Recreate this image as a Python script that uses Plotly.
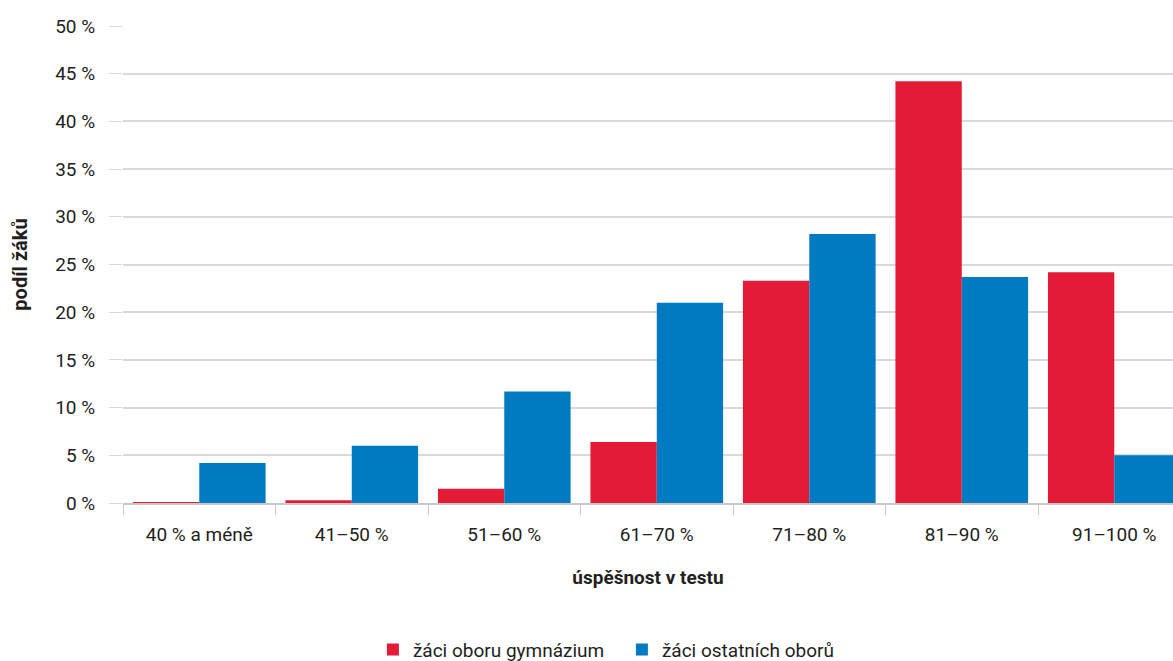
import plotly.graph_objects as go

categories = ["40 % a méně", "41–50 %", "51–60 %", "61–70 %", "71–80 %", "81–90 %", "91–100 %"]
gymnazium = [0.1, 0.3, 1.5, 6.4, 23.3, 44.2, 24.2]
ostatni = [4.2, 6.0, 11.7, 21.0, 28.2, 23.7, 5.0]
series_names = ["žáci oboru gymnázium", "žáci ostatních oborů"]
y_ticks = [0, 5, 10, 15, 20, 25, 30, 35, 40, 45, 50]
y_tick_labels = [f"{v} %" for v in y_ticks]

FONT = "Roboto, Liberation Sans Narrow, sans-serif"
TXT = "#231f20"

fig = go.Figure()
fig.add_trace(go.Bar(x=categories, y=gymnazium, name=series_names[0],
                     marker=dict(color="#e41b37", line=dict(width=0))))
fig.add_trace(go.Bar(x=categories, y=ostatni, name=series_names[1],
                     marker=dict(color="#007bc2", line=dict(width=0))))

fig.update_layout(
    width=1173, height=661,
    margin=dict(l=123, r=0, t=26, b=158),
    paper_bgcolor="white", plot_bgcolor="white",
    barmode="group", bargap=0.13, bargroupgap=0,
    font=dict(family=FONT, size=19, color=TXT),
    legend=dict(orientation="h", x=0.238, xanchor="left",
                yref="container", y=0.017, yanchor="middle",
                font=dict(size=19), itemwidth=30, tracegroupgap=0,
                entrywidth=204),
    showlegend=True,
)
fig.update_xaxes(
    range=[-0.5, 6.385],
    tickson="boundaries", ticks="outside", ticklen=10, tickcolor="#c8c8c8",
    ticklabelstandoff=13,
    showline=True, linecolor="#c8c8c8", linewidth=1.5,
    showgrid=False,
    tickfont=dict(size=19),
    title=dict(text="<b>úspěšnost v testu</b>", font=dict(size=19), standoff=26),
)
fig.update_yaxes(
    range=[0, 50], tickvals=y_ticks, ticktext=y_tick_labels,
    ticks="outside", ticklen=13, tickcolor="#d9d9d9",
    ticklabelstandoff=10,
    showgrid=True, gridcolor="#d9d9d9", gridwidth=1.5,
    zeroline=False, showline=False,
    tickfont=dict(size=19),
    title=dict(text="<b>podíl žáků</b>", font=dict(size=20), standoff=22),
)
fig.write_html("out.html", config={"displayModeBar": False},
               post_script="document.body.style.margin='0px';document.body.style.overflow='hidden';")
